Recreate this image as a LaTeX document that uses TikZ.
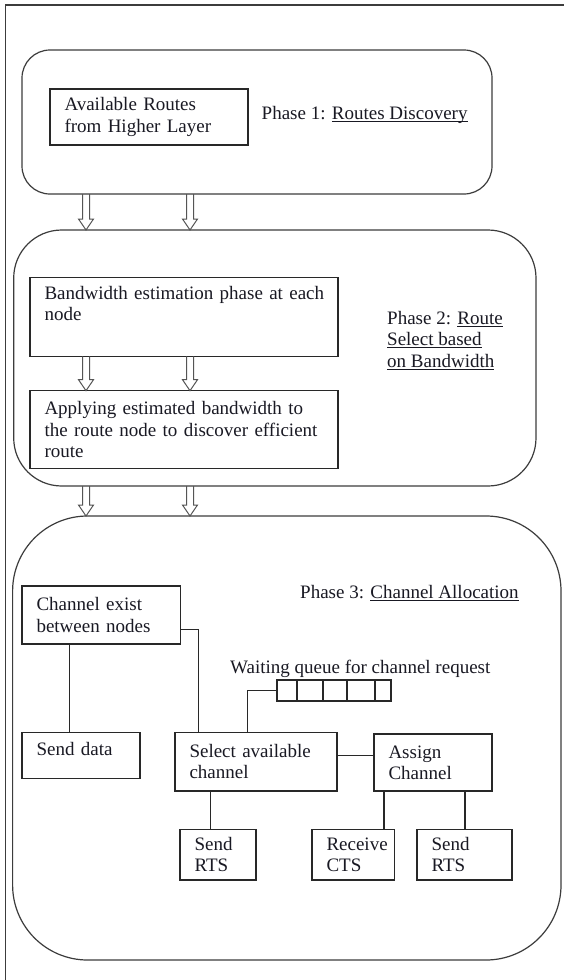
\documentclass[tikz,border=0pt]{standalone}
\usepackage{fontspec}
\setmainfont{Liberation Serif}
\usetikzlibrary{calc}
\definecolor{linec}{RGB}{40,40,40}
\definecolor{roundc}{RGB}{60,60,60}
\definecolor{arrowc}{RGB}{85,85,85}
\definecolor{txtc}{RGB}{25,25,35}
\newcommand{\ulin}[1]{\setbox0\hbox{#1}\leavevmode\rlap{\rule[-2.3pt]{\wd0}{1pt}}\box0}

\begin{document}
\begin{tikzpicture}[x=1pt, y=-1pt, font=\fontsize{19}{21.3}\selectfont, text=txtc,
	phasebox/.style={draw=roundc, line width=1.2pt, anchor=north west, outer sep=0pt, inner sep=0pt},
	box/.style={draw=linec, line width=1.3pt, anchor=north west, outer sep=0pt, inner xsep=14.5pt, inner ysep=0pt, align=left},
	cell/.style={draw=linec, line width=1.2pt, anchor=north west, outer sep=0pt, inner sep=0pt, minimum height=21pt},
	lbl/.style={inner sep=0pt},
	wire/.style={draw=linec, line width=1.2pt},
	blockarrow/.style={draw=arrowc, line width=1pt, to path={let \p1=(\tikztostart), \p2=(\tikztotarget) in
		(\x1-3.5pt,\y1) -- (\x1-3.5pt,\y2+11pt) -- (\x1-7.5pt,\y2+11pt) -- (\x1,\y2)
		-- (\x1+7.5pt,\y2+11pt) -- (\x1+3.5pt,\y2+11pt) -- (\x1+3.5pt,\y1)}}]
	\path[fill=white] (0,0) rectangle (564,980);
	\useasboundingbox (0,0) rectangle (564,980);
	
	% Frame of the page
	\draw[draw=roundc, line width=1.4pt] (5.7,980) -- (5.7,5) -- (564,5);
	
	% Define the three phases
	\node[phasebox, minimum width=470pt, minimum height=144pt, rounded corners=28pt] (ph1) at (22,50) {};
	\node[phasebox, minimum width=522.3pt, minimum height=256pt, rounded corners=48pt] (ph2) at (13.7,230) {};
	\node[phasebox, minimum width=548.4pt, minimum height=444pt, rounded corners=75pt] (ph3) at (12.6,516) {};
	\coordinate (colA) at (86,0);
	\coordinate (colB) at (190,0);
	
	% Phase 1
	\node[box, text width=169pt, minimum height=56pt] (avail) at (50,89) {Available Routes\\from Higher Layer};
	\node[lbl, anchor=base west] (t1) at (261.5,119.5) {Phase 1: \ulin{Routes Discovery}};
	
	% Phase 2
	\node[box, text width=279pt, minimum height=78.6pt] (bwest) at (30,277.7) {\mbox{Bandwidth estimation phase at each}\\node\\\strut};
	\node[box, text width=279pt, minimum height=77.6pt] (apply) at (30,390.7) {\mbox{Applying estimated bandwidth to}\\\mbox{the route node to discover efficient}\\route};
	\node[lbl, anchor=west, align=left] (t2) at (387,340.5) {Phase 2: \ulin{Route}\\\ulin{Select based}\\\ulin{on Bandwidth}};
	
	% Phase 3
	\node[lbl, anchor=base west] (t3) at (300,598.5) {Phase 3: \ulin{Channel Allocation}};
	\node[box, text width=129.5pt, minimum height=58pt] (chan) at (22,586) {Channel exist\\between nodes};
	\node[box, text width=89pt, minimum height=46pt, text depth=13pt] (send) at (22,732.3) {Send data};
	\node[box, text width=133pt, minimum height=58.7pt] (sel) at (175,732.3) {Select available\\channel};
	\node[box, text width=89pt, minimum height=57pt] (asg) at (374,734) {Assign\\Channel};
	\node[box, text width=47pt, minimum height=50.7pt] (rts1) at (180,829.3) {Send\\RTS};
	\node[box, text width=53.6pt, minimum height=50.7pt] (rcv) at (312,829.3) {\mbox{Receive}\\CTS};
	\node[box, text width=66pt, minimum height=50.7pt] (rts2) at (417,829.3) {Send\\RTS};
	
	% Waiting queue
	\node[lbl, anchor=base west] (tq) at (230,673) {Waiting queue for channel request};
	\node[cell, minimum width=20pt] (q1) at (277,680) {};
	\node[cell, minimum width=26pt] (q2) at (297,680) {};
	\node[cell, minimum width=24pt] (q3) at (323,680) {};
	\node[cell, minimum width=28pt] (q4) at (347,680) {};
	\node[cell, minimum width=16pt] (q5) at (375,680) {};
	
	% Draw the hollow arrows
	\draw[blockarrow] (ph1.south -| colA) to (ph2.north -| colA);
	\draw[blockarrow] (ph1.south -| colB) to (ph2.north -| colB);
	\draw[blockarrow] (bwest.south -| colA) to (apply.north -| colA);
	\draw[blockarrow] (bwest.south -| colB) to (apply.north -| colB);
	\draw[blockarrow] (ph2.south -| colA) to (ph3.north -| colA);
	\draw[blockarrow] (ph2.south -| colB) to (ph3.north -| colB);
	
	% Draw the links of phase 3
	\draw[wire] ([xshift=47.4pt]chan.south west) -- ([xshift=47.4pt]send.north west);
	\draw[wire] ([yshift=-14.3pt]chan.east) -| ([xshift=23.6pt]sel.north west);
	\draw[wire] (q1.west) -| ([xshift=72.5pt]sel.north west);
	\coordinate (selR) at ([yshift=6.5pt]sel.east);
	\draw[wire] (selR) -- (selR -| asg.west);
	\draw[wire] ([xshift=35.4pt]sel.south west) -- ([xshift=30.4pt]rts1.north west);
	\draw[wire] ([xshift=10pt]asg.south west) -- ([xshift=72pt]rcv.north west);
	\draw[wire] ([xshift=91pt]asg.south west) -- ([xshift=48pt]rts2.north west);
\end{tikzpicture}
\end{document}
